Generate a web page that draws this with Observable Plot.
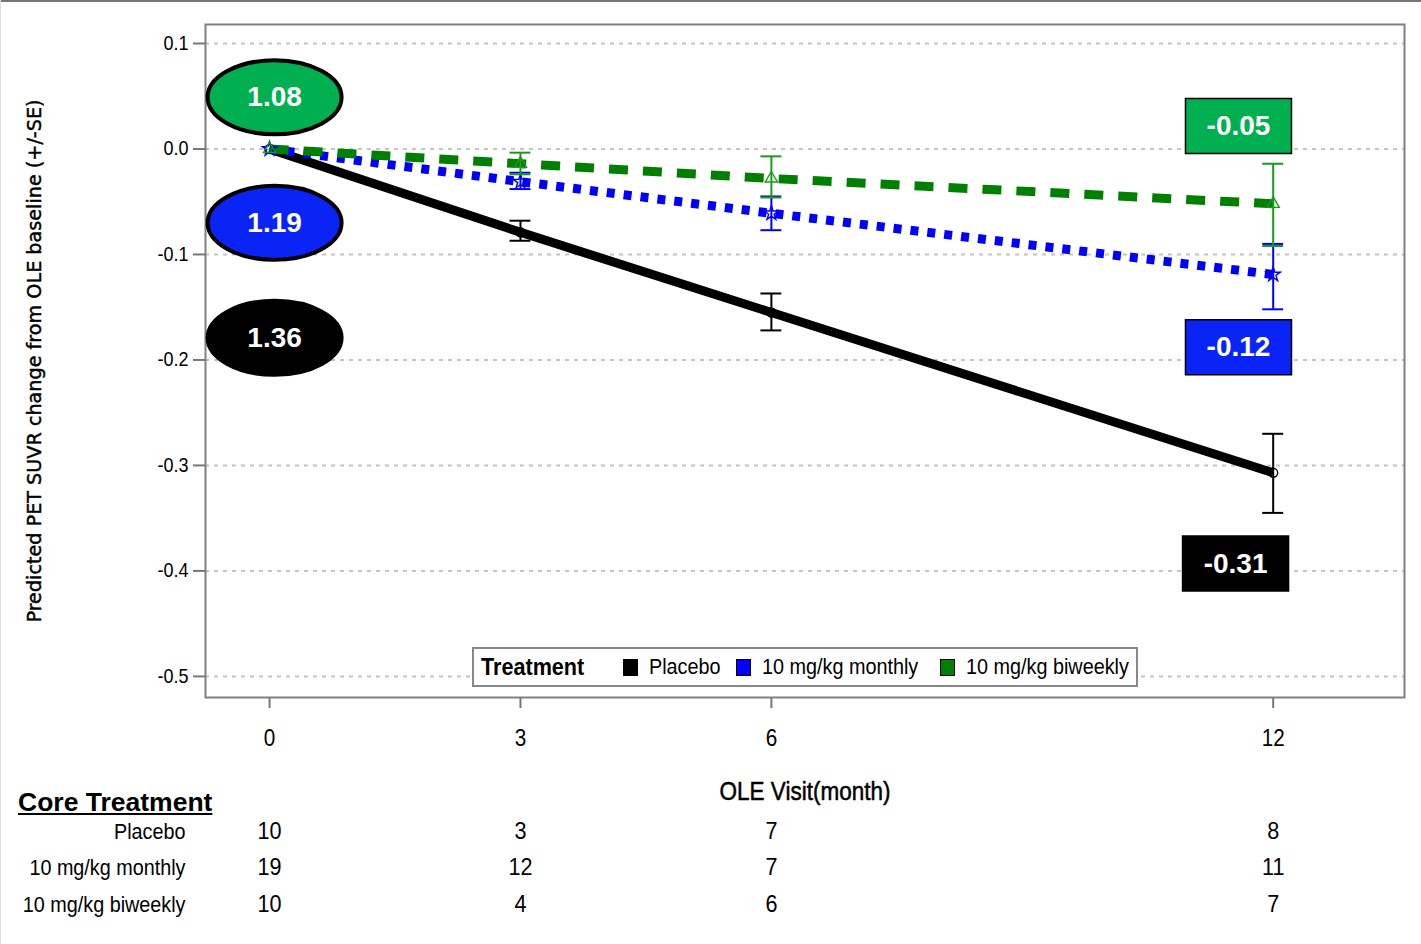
<!DOCTYPE html>
<html><head><meta charset="utf-8">
<script src="https://cdn.jsdelivr.net/npm/d3@7"></script>
<script src="https://cdn.jsdelivr.net/npm/@observablehq/plot@0.6"></script>
<style>
body{margin:0;background:#fff;}
#wrap{position:relative;width:1421px;height:944px;overflow:hidden;background:#fff;}
#topline{position:absolute;left:0;top:0;width:1421px;height:2px;background:#777;}
#leftline{position:absolute;left:0;top:0;width:1px;height:944px;background:#ddd;}
#legend{position:absolute;left:472px;top:647px;width:662px;height:36px;border:2px solid #888;background:#fff;
  font-family:"Liberation Sans",Arial,sans-serif;font-size:22px;white-space:nowrap;}
#legend .t{position:absolute;top:50%;display:inline-block;transform:translateY(-50%) scaleX(0.9);transform-origin:left center;line-height:1;}
#legend .ttl{font-weight:bold;font-size:24px;}
#legend .sw{position:absolute;top:10px;width:13px;height:15px;border:1px solid #000;}
#core{position:absolute;left:18px;top:789px;font-family:"Liberation Sans",Arial,sans-serif;font-weight:bold;font-size:26.5px;text-decoration:underline;color:#000;line-height:1;}
</style></head>
<body>
<div id="wrap"><div id="topline"></div><div id="leftline"></div></div>
<script>
const visits = [0, 3, 6, 12];
const treatments = ["Placebo", "10 mg/kg monthly", "10 mg/kg biweekly"];
const lineColors = ["#000000", "#0000ff", "#008000"];
const barColors = ["#000000", "#0000ff", "#1a9a1a"];
const badgeColors = ["#000000", "#0a24f5", "#00b050"];
const swatchColors = ["#000000", "#0000ff", "#008000"];

const placeboMean = [0, -0.079, -0.155, -0.307];
const placeboLo   = [0, -0.087, -0.172, -0.345];
const placeboHi   = [0, -0.068, -0.137, -0.270];
const monthlyMean = [0, -0.031, -0.061, -0.119];
const monthlyLo   = [0, -0.038, -0.077, -0.152];
const monthlyHi   = [0, -0.0225, -0.045, -0.090];
const biweeklyMean = [0, -0.014, -0.028, -0.052];
const biweeklyLo   = [0, -0.024, -0.046, -0.092];
const biweeklyHi   = [0, -0.0035, -0.007, -0.014];

const placeboN  = [10, 3, 7, 8];
const monthlyN  = [19, 12, 7, 11];
const biweeklyN = [10, 4, 6, 7];

const baselineLabels = ["1.36", "1.19", "1.08"];
const baselineLabelY = [-0.179, -0.070, 0.049];
const baselineLabelX = [0.06, 0.06, 0.06];
const endLabels = ["-0.31", "-0.12", "-0.05"];
const endLabelY = [-0.393, -0.188, 0.0218];
const endLabelX = [11.55, 11.585, 11.585];

const yTicks = [0.1, 0, -0.1, -0.2, -0.3, -0.4, -0.5];

const means = [placeboMean, monthlyMean, biweeklyMean];
const los = [placeboLo, monthlyLo, biweeklyLo];
const his = [placeboHi, monthlyHi, biweeklyHi];
const ns = [placeboN, monthlyN, biweeklyN];

function series(i) {
  return visits.map((v, j) => ({visit: v, mean: means[i][j], lo: los[i][j], hi: his[i][j], n: ns[i][j]}));
}
const S = treatments.map((t, i) => series(i));

const capHalf = 0.125;
const ellipseSymbol = {draw(ctx) {
  const rx = 67, ry = 37, k = 0.5523;
  ctx.moveTo(rx, 0);
  ctx.bezierCurveTo(rx, ry * k, rx * k, ry, 0, ry);
  ctx.bezierCurveTo(-rx * k, ry, -rx, ry * k, -rx, 0);
  ctx.bezierCurveTo(-rx, -ry * k, -rx * k, -ry, 0, -ry);
  ctx.bezierCurveTo(rx * k, -ry, rx, -ry * k, rx, 0);
  ctx.closePath();
}};
const boxSymbol = {draw(ctx) { ctx.rect(-53, -27.5, 106, 55); }};

const dashes = [null, "8,9", "19,15"];
const markerSymbols = ["circle", "star", "triangle"];
const NARROW = '"Liberation Sans", sans-serif';   // drawn horizontally condensed below
const BADGE = '"Liberation Sans", Arial, sans-serif';

const marks = [
  Plot.gridY(yTicks, {stroke: "#c4c4c4", strokeOpacity: 1, strokeWidth: 2, strokeDasharray: "4,5"}),
  Plot.frame({stroke: "#808080", strokeWidth: 2}),
  Plot.axisY({ticks: yTicks, tickSize: 12, tickPadding: 5, stroke: "#777", strokeWidth: 2, fill: "#000",
    fontSize: 20, fontFamily: NARROW, tickFormat: d => d.toFixed(1), label: null}),
  Plot.axisX({ticks: visits, tickSize: 11, tickPadding: 21, stroke: "#777", strokeWidth: 2, fill: "#000",
    fontSize: 23, fontFamily: NARROW, tickFormat: d => String(d), label: null}),
];
treatments.forEach((t, i) => {
  marks.push(Plot.line(S[i], {x: "visit", y: "mean", stroke: lineColors[i], strokeWidth: 9,
    strokeDasharray: dashes[i] || undefined, strokeLinecap: "butt", strokeLinejoin: "round"}));
});
treatments.forEach((t, i) => {
  const d = S[i].filter(r => r.visit > 0);
  marks.push(Plot.ruleX(d, {x: "visit", y1: "lo", y2: "hi", stroke: barColors[i], strokeWidth: 2}));
  marks.push(Plot.ruleY(d, {y: "lo", x1: r => r.visit - capHalf, x2: r => r.visit + capHalf, stroke: barColors[i], strokeWidth: 2}));
  marks.push(Plot.ruleY(d, {y: "hi", x1: r => r.visit - capHalf, x2: r => r.visit + capHalf, stroke: barColors[i], strokeWidth: 2}));
  marks.push(Plot.dot(S[i], {x: "visit", y: "mean", symbol: markerSymbols[i], r: 4.5, fill: "none", stroke: barColors[i], strokeWidth: 1.4}));
});
const baseAnn = treatments.map((t, i) => ({x: baselineLabelX[i], y: baselineLabelY[i], label: baselineLabels[i], color: badgeColors[i]}));
const endAnn = treatments.map((t, i) => ({x: endLabelX[i], y: endLabelY[i], label: endLabels[i], color: badgeColors[i]}));
marks.push(Plot.dot(baseAnn, {x: "x", y: "y", symbol: ellipseSymbol, r: 10, fill: d => d.color, stroke: "black", strokeWidth: 4}));
marks.push(Plot.text(baseAnn, {x: "x", y: "y", text: "label", fill: "white", fontWeight: "bold", fontSize: 28, fontFamily: BADGE}));
marks.push(Plot.dot(endAnn, {x: "x", y: "y", symbol: boxSymbol, r: 10, fill: d => d.color, stroke: "black", strokeWidth: 1.5}));
marks.push(Plot.text(endAnn, {x: "x", y: "y", text: "label", fill: "white", fontWeight: "bold", fontSize: 28, fontFamily: BADGE}));
marks.push(Plot.text(["Predicted PET SUVR change from OLE baseline (+/-SE)"], {frameAnchor: "left", dx: -171, rotate: -90,
  textAnchor: "middle", lineAnchor: "middle", fontSize: 19.2, fontFamily: '"DejaVu Sans",Verdana,sans-serif',
  fill: "#000", stroke: "#000", strokeWidth: 0.45}));
marks.push(Plot.text(["OLE Visit(month)"], {frameAnchor: "bottom", dy: 94, lineAnchor: "middle", fontSize: 25, fontFamily: NARROW,
  fill: "#000", stroke: "#000", strokeWidth: 0.5}));
treatments.forEach((t, i) => {
  const dy = [134, 170, 207][i];
  marks.push(Plot.text([t], {frameAnchor: "bottom-left", dx: -20, dy, textAnchor: "end", lineAnchor: "middle", fontSize: 22, fontFamily: NARROW, fill: "#000"}));
  marks.push(Plot.text(S[i], {x: "visit", text: d => String(d.n), frameAnchor: "bottom", dy, lineAnchor: "middle", fontSize: 24, fontFamily: NARROW, fill: "#000"}));
});

const chart = Plot.plot({
  width: 1421, height: 944,
  marginLeft: 205, marginRight: 17, marginTop: 24, marginBottom: 247,
  x: {domain: [-0.766, 13.57]},
  y: {domain: [-0.52, 0.118]},
  style: {background: "transparent", overflow: "visible"},
  marks
});
// condense the Calibri-like texts horizontally
d3.select(chart).selectAll("text").each(function() {
  const g = this.closest("[font-family]");
  if (g && g.getAttribute("font-family") === NARROW) {
    const tr = this.getAttribute("transform") || "";
    this.setAttribute("transform", tr + " scale(0.9,1)");
  }
});
chart.style.position = "absolute"; chart.style.left = "0"; chart.style.top = "0";
const wrap = document.getElementById("wrap");
wrap.appendChild(chart);

const legend = document.createElement("div");
legend.id = "legend";
const swLeft = [149, 262, 466];
const txLeft = [175, 288, 492];
let html = '<span class="t ttl" style="left:7px">Treatment</span>';
treatments.forEach((t, i) => {
  html += `<span class="sw" style="left:${swLeft[i]}px;background:${swatchColors[i]}"></span>`;
  html += `<span class="t" style="left:${txLeft[i]}px">${t}</span>`;
});
legend.innerHTML = html;
wrap.appendChild(legend);
const core = document.createElement("div");
core.id = "core"; core.textContent = "Core Treatment";
wrap.appendChild(core);
</script>
</body></html>
